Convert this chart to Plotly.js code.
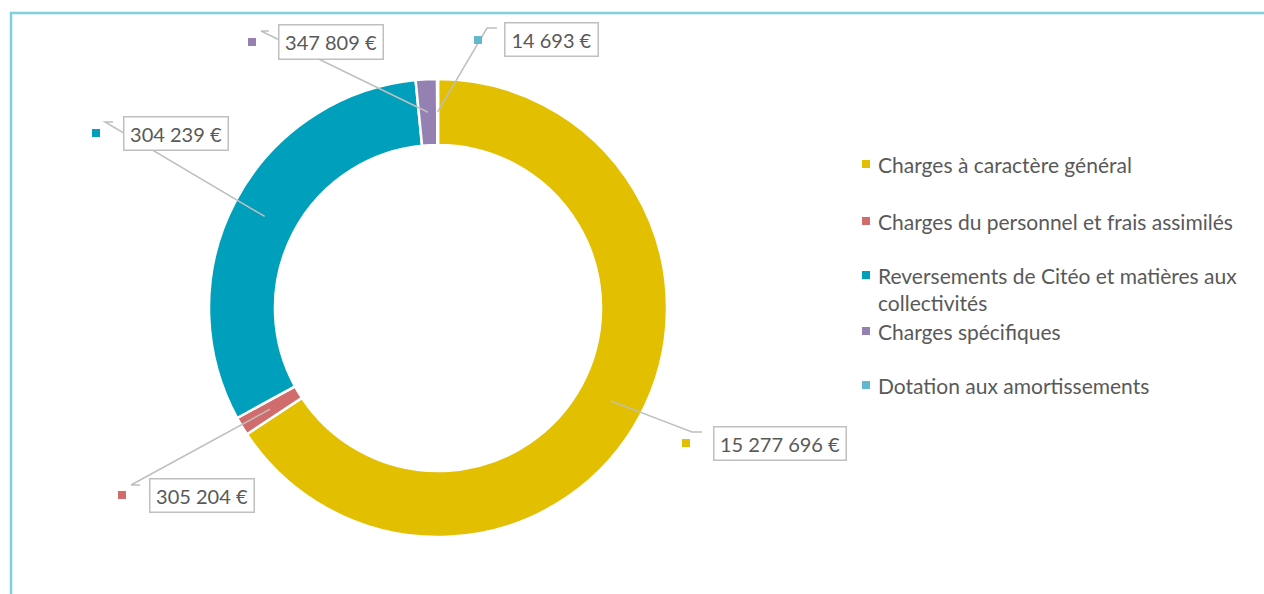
<!DOCTYPE html>
<html>
<head>
<meta charset="utf-8">
<script src="https://cdn.plot.ly/plotly-3.0.1.min.js"></script>
<style>html,body{margin:0;padding:0;background:#fff;}#chart{width:1264px;height:594px;}</style>
</head>
<body>
<div id="chart"></div>
<script>
// ---- data ----
const categories = [
  'Charges à caractère général',
  'Charges du personnel et frais assimilés',
  'Reversements de Citéo et matières aux collectivités',
  'Charges spécifiques',
  'Dotation aux amortissements'
];
const legendLabels = [
  'Charges à caractère général',
  'Charges du personnel et frais assimilés',
  'Reversements de Citéo et matières aux<br>collectivités',
  'Charges spécifiques',
  'Dotation aux amortissements'
];
const sliceValues = [15277696, 305204, 7304239, 347809, 14693];
// data labels as printed on the chart
const valueLabels = ['15 277 696 €', '305 204 €', '304 239 €', '347 809 €', '14 693 €'];

// ---- styles / layout ----
const W = 1264, H = 594;
const colors = ['#E2BF00', '#D06C6C', '#00A0BC', '#9580B2', '#62B8CF'];
const cx = 438, cy = 308, R = 229, hole = 0.712;
const px = x => x / W, py = y => 1 - y / H;

const boxes = [
  {cx: 780, cy: 443.5, w: 134, h: 35, elbow: [692, 432], tick: [702, 432], sq: [686, 443]},
  {cx: 202, cy: 495.5, w: 106, h: 35, elbow: [131, 485], tick: [140, 485], sq: [122, 495]},
  {cx: 176, cy: 133.5, w: 106, h: 35, elbow: [105, 122], tick: [113, 122], sq: [96, 133]},
  {cx: 331, cy: 42,    w: 106, h: 36, elbow: [261, 31],  tick: [269, 31],  sq: [252, 42]},
  {cx: 551.5, cy: 39.5, w: 95, h: 35, elbow: [487, 28],  tick: [497, 28],  sq: [478, 40]}
];
const legendRows = [164, 221, 275, 331, 385];
const legendX = 876, legendSqX = 866;

const total = sliceValues.reduce((a, b) => a + b, 0);
let cum = 0;
const shapes = [];
const annotations = [];

shapes.push({type: 'rect', xref: 'paper', yref: 'paper', x0: px(11), x1: px(1275), y0: py(13), y1: py(610),
  line: {color: '#7FCFDC', width: 2.5}, fillcolor: 'rgba(0,0,0,0)', layer: 'below'});

sliceValues.forEach((v, i) => {
  const frac = v / total;
  const mid = (cum + frac / 2) * 2 * Math.PI;
  cum += frac;
  const rMid = R * (1 + hole) / 2;
  const sx = cx + rMid * Math.sin(mid), sy = cy - rMid * Math.cos(mid);
  const b = boxes[i];
  shapes.push({type: 'path', xref: 'paper', yref: 'paper',
    path: `M ${px(sx)},${py(sy)} L ${px(b.elbow[0])},${py(b.elbow[1])} L ${px(b.tick[0])},${py(b.tick[1])}`,
    line: {color: '#BFBFBF', width: 1.5}});
  shapes.push({type: 'rect', xref: 'paper', yref: 'paper',
    x0: px(b.sq[0] - 4), x1: px(b.sq[0] + 4), y0: py(b.sq[1] + 4), y1: py(b.sq[1] - 4),
    line: {width: 0}, fillcolor: colors[i]});
  annotations.push({xref: 'paper', yref: 'paper', x: px(b.cx), y: py(b.cy), xanchor: 'center', yanchor: 'middle',
    text: valueLabels[i], showarrow: false, width: b.w - 3, height: b.h - 3, align: 'center', valign: 'middle',
    bgcolor: '#FFFFFF', bordercolor: '#BFBFBF', borderwidth: 1.5, borderpad: 0,
    font: {family: 'Lato, "Open Sans", sans-serif', size: 20, color: '#595959'}});
  shapes.push({type: 'rect', xref: 'paper', yref: 'paper',
    x0: px(legendSqX - 4), x1: px(legendSqX + 4), y0: py(legendRows[i] + 4), y1: py(legendRows[i] - 4),
    line: {width: 0}, fillcolor: colors[i]});
  annotations.push({xref: 'paper', yref: 'paper', x: px(legendX), y: py(legendRows[i] + (i === 2 ? 14 : 0)),
    xanchor: 'left', yanchor: 'middle', text: legendLabels[i], showarrow: false, align: 'left',
    font: {family: 'Lato, "Open Sans", sans-serif', size: 21, color: '#595959'}});
});

const trace = {
  type: 'pie',
  labels: categories,
  values: sliceValues,
  hole: hole,
  sort: false,
  direction: 'clockwise',
  rotation: 0,
  textinfo: 'none',
  hoverinfo: 'label+value',
  marker: {colors: colors, line: {color: '#FFFFFF', width: 2.5}},
  domain: {x: [px(cx - R), px(cx + R)], y: [py(cy + R), py(cy - R)]},
  showlegend: false
};

Plotly.newPlot('chart', [trace], {
  width: W, height: H,
  margin: {l: 0, r: 0, t: 0, b: 0},
  paper_bgcolor: '#FFFFFF',
  showlegend: false,
  shapes: shapes,
  annotations: annotations
}, {displayModeBar: false, staticPlot: true});
</script>
</body>
</html>
